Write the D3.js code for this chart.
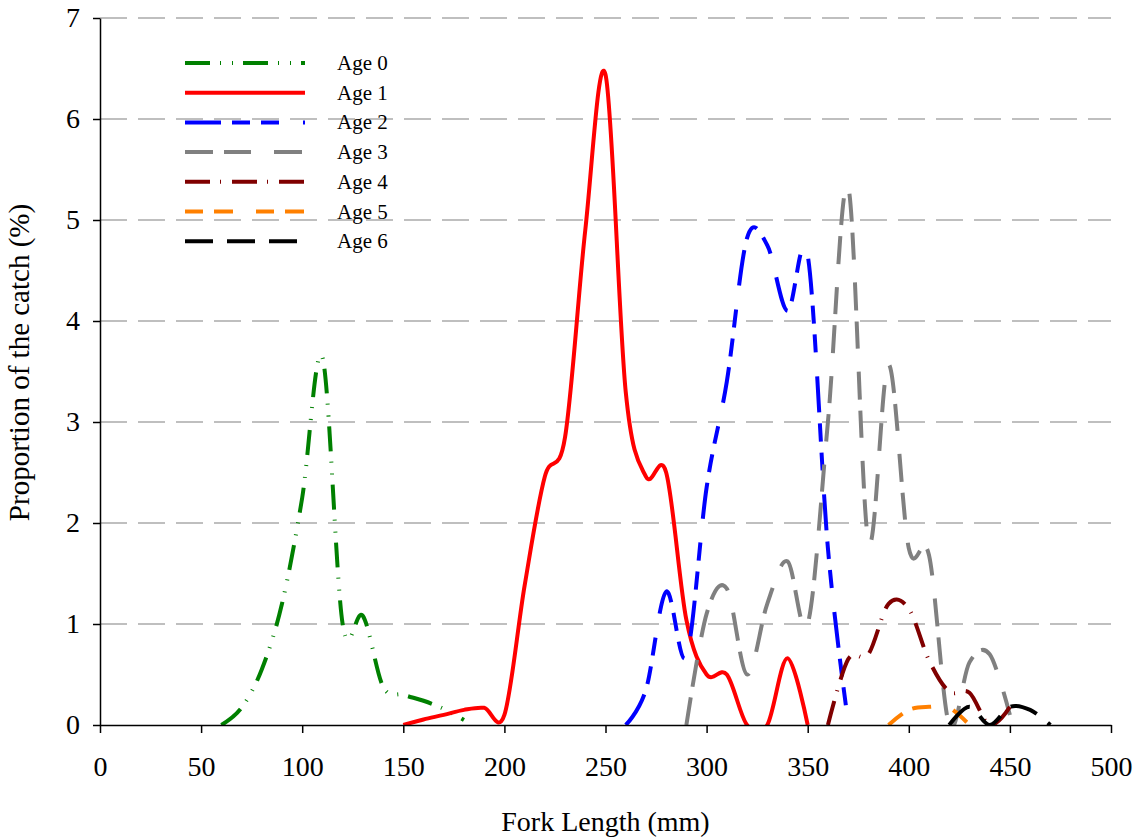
<!DOCTYPE html>
<html>
<head>
<meta charset="utf-8">
<script src="https://cdn.jsdelivr.net/npm/d3@7/dist/d3.min.js"></script>
<style>
  body { margin: 0; background: #fff; }
</style>
</head>
<body>
<div id="chart"></div>
<script>
// fork length classes (mm) and proportion of the catch (%) per age
const age0Length = [60, 70, 80, 90, 100, 110, 120, 130, 140, 150, 160, 170, 180];
const age0Pct = [0, 0.17, 0.55, 1.2, 2.25, 3.64, 1.0, 1.08, 0.38, 0.3, 0.24, 0.16, 0.05];

const age1Length = [150, 160, 170, 180, 190, 200, 210, 220, 230, 240, 250, 260, 270, 280, 290, 300, 310, 320, 330, 340, 350];
const age1Pct = [0, 0.055, 0.1, 0.15, 0.17, 0.1, 1.38, 2.46, 2.85, 4.9, 6.44, 3.3, 2.46, 2.5, 1.04, 0.5, 0.5, 0, 0, 0.66, 0];

const age2Length = [260, 270, 280, 290, 300, 310, 320, 330, 340, 350, 360, 370];
const age2Pct = [0, 0.35, 1.32, 0.68, 2.35, 3.4, 4.82, 4.75, 4.1, 4.65, 1.75, 0.03];

const age3Length = [290, 300, 310, 320, 330, 340, 350, 360, 370, 380, 390, 400, 410, 420, 430, 440, 450];
const age3Pct = [0, 1.1, 1.35, 0.5, 1.2, 1.62, 1.0, 3.0, 5.33, 1.82, 3.57, 1.75, 1.68, 0, 0.62, 0.7, 0.1];

const age4Length = [360, 370, 380, 390, 400, 410, 420, 430, 440, 450];
const age4Pct = [0, 0.65, 0.7, 1.2, 1.15, 0.64, 0.33, 0.32, 0, 0.18];

const age5Length = [390, 400, 410, 420, 430];
const age5Pct = [0, 0.15, 0.18, 0.17, 0];

const age6Length = [420, 430, 440, 450, 460, 470];
const age6Pct = [0, 0.18, 0, 0.18, 0.15, 0];

const ageNames = ["Age 0", "Age 1", "Age 2", "Age 3", "Age 4", "Age 5", "Age 6"];
const xTicks = [0, 50, 100, 150, 200, 250, 300, 350, 400, 450, 500];
const yTicks = [0, 1, 2, 3, 4, 5, 6, 7];

const series = [
  { name: ageNames[0], len: age0Length, pct: age0Pct, color: "#008000", dash: "25,10,1,11,1,10" },
  { name: ageNames[1], len: age1Length, pct: age1Pct, color: "#ff0000", dash: null },
  { name: ageNames[2], len: age2Length, pct: age2Pct, color: "#0000ff", dash: "36,11,18,11,18,24" },
  { name: ageNames[3], len: age3Length, pct: age3Pct, color: "#808080", dash: "28,11,27,23" },
  { name: ageNames[4], len: age4Length, pct: age4Pct, color: "#800000", dash: "25,10,1,11" },
  { name: ageNames[5], len: age5Length, pct: age5Pct, color: "#ff8000", dash: "18,11,19,23" },
  { name: ageNames[6], len: age6Length, pct: age6Pct, color: "#000000", dash: "28,14" }
];

const serif = "'Liberation Serif', 'Times New Roman', serif";

const margins = { top: 18, bottom: 115, left: 100, right: 29 };
const width = 1140 - margins.left - margins.right;
const height = 840 - margins.top - margins.bottom;

const svg = d3.select("#chart").append("svg")
  .attr("width", 1140)
  .attr("height", 840)
  .append("g")
  .attr("transform", "translate(" + margins.left + "," + margins.top + ")");

const xScale = d3.scaleLinear().domain([0, 500]).range([0, width]);
const yScale = d3.scaleLinear().domain([0, 7]).range([height, 0]);

// dashed gridlines
svg.append("g")
  .selectAll("line")
  .data(yTicks.filter(d => d > 0))
  .join("line")
  .attr("x1", 0)
  .attr("x2", width)
  .attr("y1", d => yScale(d))
  .attr("y2", d => yScale(d))
  .attr("stroke", "#bfbfbf")
  .attr("stroke-width", 2)
  .attr("stroke-dasharray", "27,11");

svg.append("clipPath")
  .attr("id", "plot-clip")
  .append("rect")
  .attr("x", 0)
  .attr("y", 0)
  .attr("width", width)
  .attr("height", height);

const line = d3.line()
  .x(d => xScale(d[0]))
  .y(d => yScale(d[1]))
  .curve(d3.curveCatmullRom.alpha(0));

svg.append("g")
  .attr("clip-path", "url(#plot-clip)")
  .selectAll("path")
  .data(series)
  .join("path")
  .attr("d", s => line(s.len.map((l, i) => [l, s.pct[i]])))
  .attr("fill", "none")
  .attr("stroke", s => s.color)
  .attr("stroke-width", 4)
  .attr("stroke-dasharray", s => s.dash)
  .attr("stroke-linejoin", "round");

// axes
const xAxis = svg.append("g")
  .attr("transform", "translate(0," + height + ")")
  .call(d3.axisBottom(xScale).tickValues(xTicks).tickSize(8).tickPadding(23).tickSizeOuter(0));

const yAxis = svg.append("g")
  .call(d3.axisLeft(yScale).tickValues(yTicks).tickFormat(d3.format("d")).tickSize(7).tickPadding(13).tickSizeOuter(0));

[xAxis, yAxis].forEach(ax => {
  ax.select(".domain").attr("stroke", "#000").attr("stroke-width", 1.5);
  ax.selectAll(".tick line").attr("stroke", "#000").attr("stroke-width", 1.5);
  ax.selectAll(".tick text")
    .style("font-family", serif)
    .style("font-size", "28px")
    .attr("fill", "#000");
});

svg.append("text") // x axis label
  .text("Fork Length (mm)")
  .attr("text-anchor", "middle")
  .attr("x", width / 2)
  .attr("y", height + 106)
  .style("font-family", serif)
  .style("font-size", "28px");

svg.append("text") // y axis label
  .text("Proportion of the catch (%)")
  .attr("text-anchor", "middle")
  .attr("transform", "translate(-71," + (height / 2 - 9) + ") rotate(-90)")
  .style("font-family", serif)
  .style("font-size", "29px");

// legend
const legend = svg.append("g")
  .attr("transform", "translate(85,45)");

const legendRow = legend.selectAll("g")
  .data(series)
  .join("g")
  .attr("transform", (s, i) => "translate(0," + (i * 29.7) + ")");

legendRow.append("line")
  .attr("x1", 0)
  .attr("x2", 120)
  .attr("stroke", s => s.color)
  .attr("stroke-width", 4)
  .attr("stroke-dasharray", s => s.dash);

legendRow.append("text")
  .text(s => s.name)
  .attr("x", 152)
  .attr("y", 7)
  .style("font-family", serif)
  .style("font-size", "21px");
</script>
</body>
</html>
